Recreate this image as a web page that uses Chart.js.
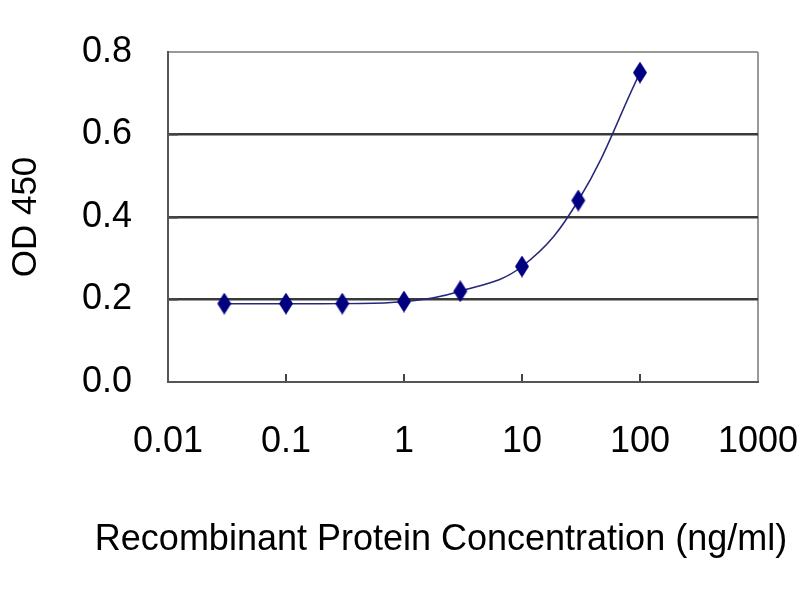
<!DOCTYPE html>
<html>
<head>
<meta charset="utf-8">
<script src="https://cdn.jsdelivr.net/npm/chart.js@4.4.1/dist/chart.umd.min.js"></script>
<style>
  html, body { margin: 0; padding: 0; background: #fff; }
  canvas { display: block; }
</style>
</head>
<body>
<canvas id="chart1" width="800" height="600"></canvas>
<script>
// concentration (ng/ml) and OD 450 readings
const concentrations = [0.03, 0.1, 0.3, 1, 3, 10, 30, 100];
const odValues = [0.19, 0.19, 0.19, 0.195, 0.22, 0.28, 0.44, 0.75];
const xTicks = [0.01, 0.1, 1, 10, 100, 1000];
const yTicks = [0, 0.2, 0.4, 0.6, 0.8];

const xTitle = 'Recombinant Protein Concentration (ng/ml)';
const yTitle = 'OD 450';
const fontFamily = '"Liberation Sans", Arial, sans-serif';

// tall diamond marker like the excel one
const marker = document.createElement('canvas');
marker.width = 16;
marker.height = 22;
const mctx = marker.getContext('2d');
mctx.fillStyle = '#000080';
mctx.beginPath();
mctx.moveTo(8, 0);
mctx.lineTo(15, 11);
mctx.lineTo(8, 22);
mctx.lineTo(1, 11);
mctx.closePath();
mctx.fill();

// x axis title sits a bit left of the plot centre in the original
const xTitlePlugin = {
    id: 'xTitle',
    afterDraw(chart) {
        const c = chart.ctx;
        c.save();
        c.font = '36px ' + fontFamily;
        c.fillStyle = '#000';
        c.textAlign = 'center';
        c.textBaseline = 'middle';
        c.fillText(xTitle, 441, 540);
        c.restore();
    }
};

const chart1Ctx = document.getElementById("chart1").getContext("2d");
const chart1 = new Chart(chart1Ctx, {
    type: 'scatter',
    data: {
        datasets: [{
            label: yTitle,
            data: concentrations.map((x, i) => ({ x: x, y: odValues[i] })),
            showLine: true,
            tension: 0.4,
            borderColor: '#26267a',
            borderWidth: 1.5,
            pointStyle: marker,
            pointRadius: 8,
            backgroundColor: '#000080'
        }]
    },
    options: {
        responsive: false,
        animation: false,
        layout: { padding: { top: 52, right: 42, left: 0, bottom: 0 } },
        plugins: {
            legend: { display: false },
            tooltip: { enabled: false }
        },
        scales: {
            x: {
                type: 'logarithmic',
                min: 0.01,
                max: 1000,
                afterBuildTicks: scale => { scale.ticks = xTicks.map(v => ({ value: v })); },
                afterFit: scale => {
                    scale.height = 218;
                    scale.paddingLeft = 0;
                    scale.paddingRight = 0;
                },
                border: { color: '#555', width: 2 },
                grid: {
                    drawOnChartArea: true,
                    tickLength: -8,
                    color: ctx => (ctx.tick && ctx.tick.value === 1000) ? '#999' : 'rgba(0,0,0,0)',
                    tickColor: ctx => (ctx.tick && ctx.tick.value > 0.01 && ctx.tick.value < 1000) ? '#444' : 'rgba(0,0,0,0)',
                    lineWidth: 2
                },
                ticks: {
                    color: '#000',
                    font: { family: fontFamily, size: 36 },
                    padding: 46,
                    maxRotation: 0,
                    autoSkip: false,
                    callback: value => String(value)
                }
            },
            y: {
                min: 0,
                max: 0.8,
                afterBuildTicks: scale => { scale.ticks = yTicks.map(v => ({ value: v })); },
                afterFit: scale => {
                    scale.width = 168;
                    scale.paddingTop = 0;
                    scale.paddingBottom = 0;
                },
                border: { color: '#555', width: 2 },
                grid: {
                    tickLength: -10,
                    color: ctx => {
                        const v = ctx.tick ? Math.round(ctx.tick.value * 10) / 10 : 0;
                        if (v === 0) return 'rgba(0,0,0,0)';
                        if (v === 0.8) return '#999';
                        return '#3a3a3a';
                    },
                    tickColor: ctx => {
                        const v = ctx.tick ? Math.round(ctx.tick.value * 10) / 10 : 0;
                        return (v > 0 && v < 0.8) ? '#444' : 'rgba(0,0,0,0)';
                    },
                    lineWidth: ctx => {
                        const v = ctx.tick ? Math.round(ctx.tick.value * 10) / 10 : 0;
                        return (v > 0 && v < 0.8) ? 2.5 : 2;
                    }
                },
                ticks: {
                    color: '#000',
                    font: { family: fontFamily, size: 36 },
                    padding: 46,
                    callback: value => value.toFixed(1)
                },
                title: {
                    display: true,
                    text: yTitle,
                    color: '#000',
                    font: { family: fontFamily, size: 35 },
                    padding: { top: 5, bottom: 0 }
                }
            }
        }
    },
    plugins: [xTitlePlugin]
});
</script>
</body>
</html>
